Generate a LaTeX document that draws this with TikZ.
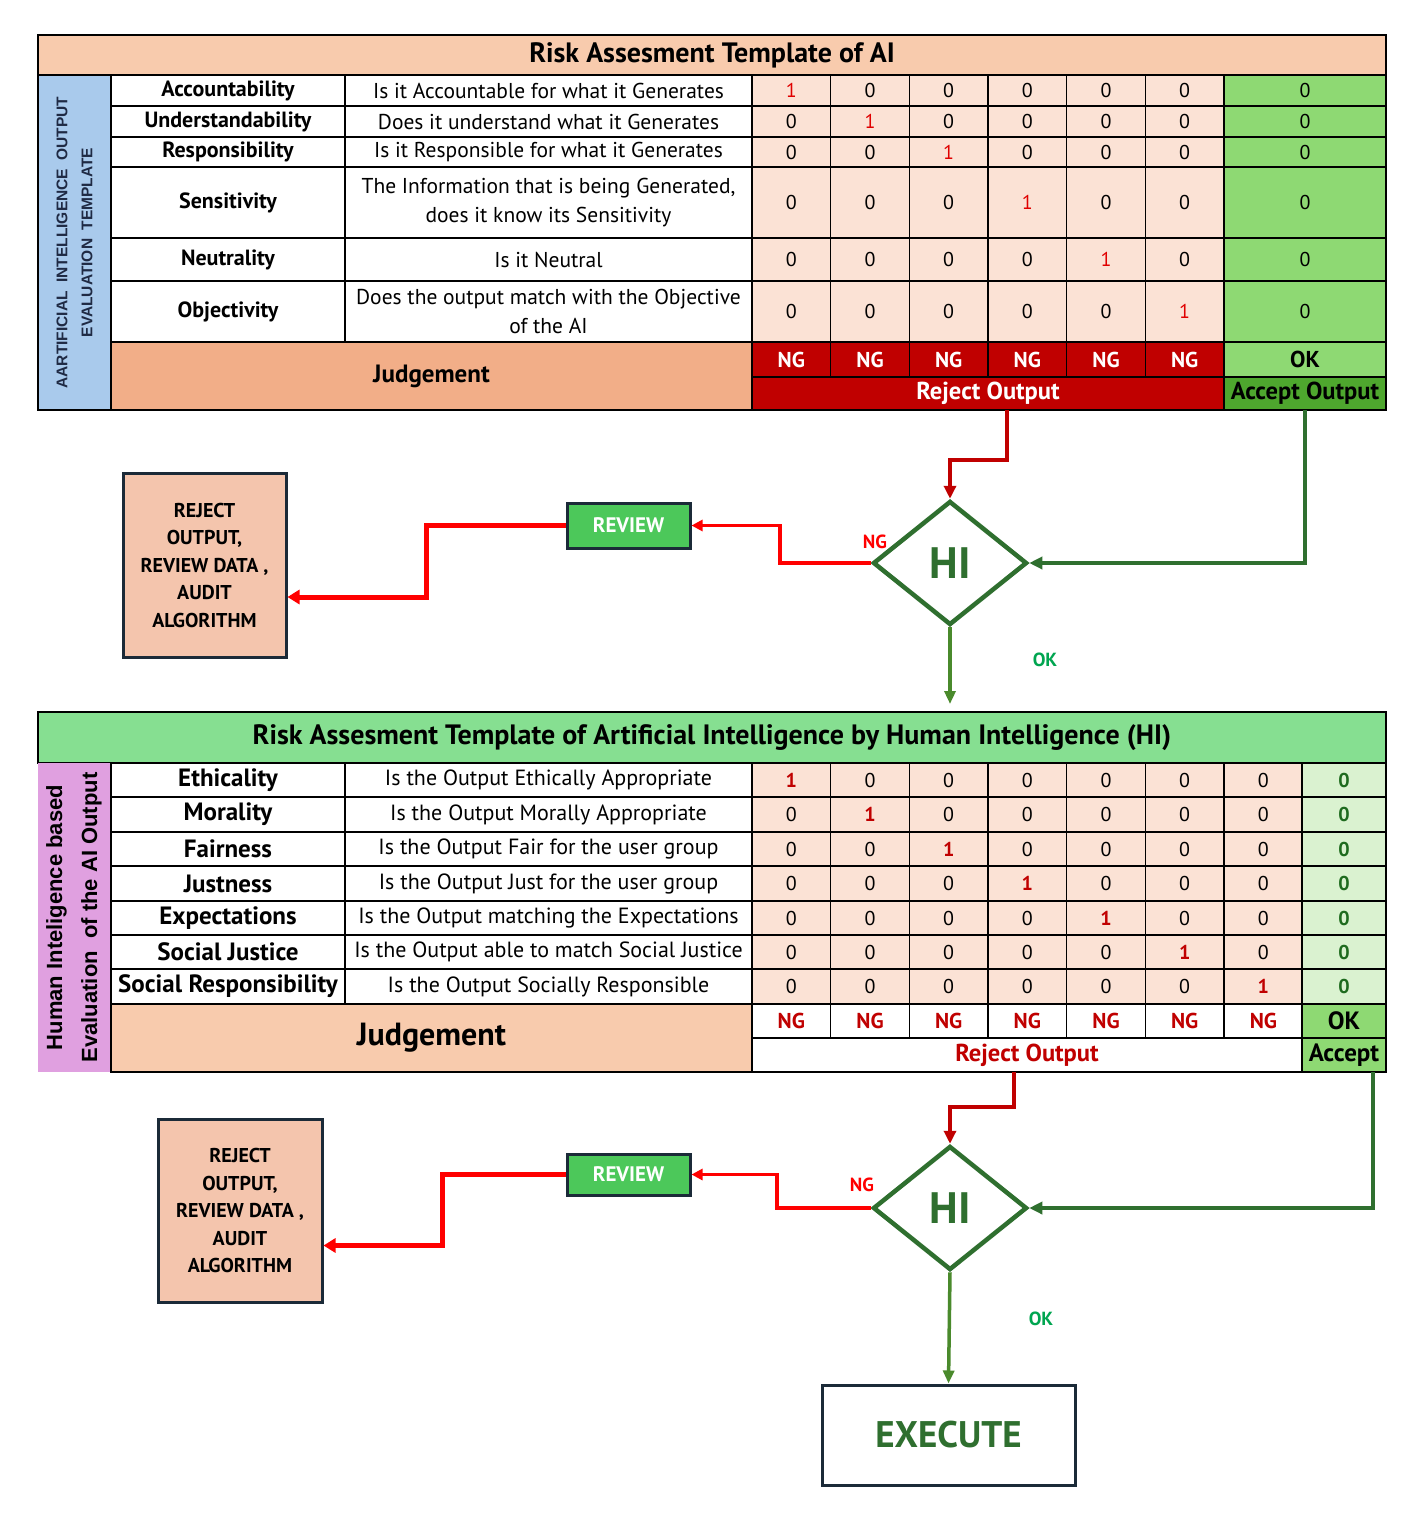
\documentclass[tikz,border=0pt]{standalone}
\usepackage{fontspec}
\setmainfont{PT Sans}
\newfontfamily\sidefont{Liberation Sans}
\usetikzlibrary{arrows.meta,backgrounds,calc,fit,positioning,shapes.geometric}

\definecolor{titlePeach}{HTML}{F8CBAD}
\definecolor{cellPeach}{HTML}{FBE2D5}
\definecolor{judgeSalmon}{HTML}{F2AE88}
\definecolor{okGreen}{HTML}{8ED973}
\definecolor{acceptGreen}{HTML}{4EA72E}
\definecolor{ngRed}{HTML}{C00000}
\definecolor{hitRed}{HTML}{E00000}
\definecolor{sideBlue}{HTML}{A9CAEC}
\definecolor{sideInk}{HTML}{1F2A44}
\definecolor{sidePink}{HTML}{E0A0E0}
\definecolor{hiTitleGreen}{HTML}{86DF91}
\definecolor{paleGreen}{HTML}{DAF2D0}
\definecolor{zeroGreen}{HTML}{1E6B1E}
\definecolor{lineGreen}{HTML}{2F6F2F}
\definecolor{okLineGreen}{HTML}{4A8A2C}
\definecolor{okText}{HTML}{00A550}
\definecolor{reviewGreen}{HTML}{4CC85A}
\definecolor{boxInk}{HTML}{1B2A38}
\definecolor{rejectPeach}{HTML}{F4C5AD}

\begin{document}
\begin{tikzpicture}[x=1pt, y=-1pt,
  grid cell/.style={draw=black, line width=1.6pt, anchor=north west, inner sep=0pt, outer sep=0pt, align=center},
  crit cell/.style={grid cell, fill=white, minimum width=234},
  ask cell/.style={grid cell, fill=white, minimum width=407},
  val cell/.style={grid cell, fill=cellPeach, minimum width=78.67, font=\fontsize{20}{22}\selectfont},
  side text/.style={rotate=90, align=center, inner sep=0pt},
  table frame/.style={draw=black, line width=2.6pt, inner sep=0pt},
  hi check/.style={diamond, draw=lineGreen, line width=4.5pt, fill=white, inner sep=0pt,
    minimum width=154, minimum height=124, text=lineGreen, font=\fontsize{44}{44}\selectfont\bfseries},
  review box/.style={draw=boxInk, line width=3pt, fill=reviewGreen, text=white,
    minimum width=123, font=\fontsize{21}{24}\selectfont\bfseries},
  reject box/.style={draw=boxInk, line width=3pt, fill=rejectPeach, align=center,
    font=\fontsize{20}{27.5}\selectfont\bfseries},
  execute box/.style={draw=boxInk, line width=3pt, fill=white, text=lineGreen,
    minimum width=253, minimum height=100, font=\fontsize{37}{40}\selectfont\bfseries},
  ng label/.style={text=red, font=\fontsize{19}{20}\selectfont\bfseries},
  ok label/.style={text=okText, font=\fontsize{19}{20}\selectfont\bfseries},
  feed red/.style={draw=ngRed, line width=4pt, -{Triangle[length=13pt,width=12pt]}},
  feed green/.style={draw=lineGreen, line width=4.5pt, -{Triangle[length=13pt,width=12pt]}},
  ng line/.style={draw=red, line width=3.5pt, -{Triangle[length=11pt,width=11pt]}},
  ng line thick/.style={draw=red, line width=5pt, -{Triangle[length=12pt,width=14pt]}},
  ok line/.style={draw=okLineGreen, line width=3.5pt, -{Triangle[length=13pt,width=11pt]}}
]

\useasboundingbox (0,0) rectangle (1426,1526);
\fill[white] (0,0) rectangle (1426,1526);

% Column anchors shared by both templates.
\def\critLeft{111}
\def\askLeft{345}
\def\valLeft{752}
\def\valStep{78.67}

% -----------------------------------------------------------------------------
% Template 1: risk assessment of the AI output.
% -----------------------------------------------------------------------------
\node[grid cell, fill=titlePeach, minimum width=1348, minimum height=40,
  font=\fontsize{28}{30}\selectfont\bfseries] (aiTitle) at (38,35) {Risk Assesment Template of AI};
\node[grid cell, fill=sideBlue, minimum width=73, minimum height=335] (aiSide) at (38,75) {};
\node[side text, text=sideInk, font=\sidefont\bfseries\fontsize{15.5}{25}\selectfont] (aiSideText) at (aiSide.center)
  {AARTIFICIAL\ \ INTELLIGENCE\ \ OUTPUT\\EVALUATION\ \ TEMPLATE};

\foreach \row/\ytop/\rowh/\crit/\ask in {
    1/75/31/Accountability/{Is it Accountable for what it Generates},
    2/106/31/Understandability/{Does it understand what it Generates},
    3/137/30/Responsibility/{Is it Responsible for what it Generates},
    4/167/71/Sensitivity/{The Information that is being Generated,\\does it know its Sensitivity},
    5/238/43/Neutrality/{Is it Neutral},
    6/281/61/Objectivity/{Does the output match with the Objective\\of the AI}} {
  \node[crit cell, minimum height=\rowh, font=\fontsize{22}{24}\selectfont\bfseries] (aiCrit\row) at (\critLeft,\ytop) {\crit};
  \node[ask cell, minimum height=\rowh, font=\fontsize{21.5}{29}\selectfont] (aiAsk\row) at (\askLeft,\ytop) {\ask};
  \foreach \col in {1,...,6}
    \node[val cell, minimum height=\rowh] (aiVal\row-\col) at ({\valLeft+(\col-1)*\valStep},\ytop)
      {\ifnum\col=\row\relax\textcolor{hitRed}{1}\else 0\fi};
  \node[grid cell, fill=okGreen, minimum width=162, minimum height=\rowh,
    font=\fontsize{20}{22}\selectfont] (aiOk\row) at (1224,\ytop) {0};
}

\node[grid cell, fill=judgeSalmon, minimum width=641, minimum height=68,
  font=\fontsize{25}{28}\selectfont\bfseries] (aiJudge) at (\critLeft,342) {Judgement};
\foreach \col in {1,...,6}
  \node[grid cell, fill=ngRed, text=white, minimum width=\valStep, minimum height=35,
    font=\fontsize{21.5}{23}\selectfont\bfseries] (aiNg\col) at ({\valLeft+(\col-1)*\valStep},342) {NG};
\node[grid cell, fill=okGreen, minimum width=162, minimum height=35,
  font=\fontsize{23}{24}\selectfont\bfseries] (aiOkMark) at (1224,342) {OK};
\node[grid cell, fill=ngRed, text=white, minimum width=472, minimum height=33,
  font=\fontsize{24.5}{26}\selectfont\bfseries] (aiReject) at (\valLeft,377) {Reject Output};
\node[grid cell, fill=acceptGreen, minimum width=162, minimum height=33,
  font=\fontsize{24.5}{26}\selectfont\bfseries] (aiAccept) at (1224,377) {Accept Output};

\node[table frame, fit=(aiTitle)(aiSide)(aiAccept)] (aiFrame) {};

% -----------------------------------------------------------------------------
% First human check.
% -----------------------------------------------------------------------------
\node[hi check] (aiCheck) at (950,563) {HI};
\node[review box, minimum height=45] (aiReview) at (628.5,525.5) {REVIEW};
\node[reject box, minimum width=163, minimum height=184] (aiRejectBox) at (204.5,565)
  {REJECT\\OUTPUT,\\REVIEW DATA ,\\AUDIT\\ALGORITHM};
\node[ng label] (aiNgLabel) at (875,542) {NG};
\node[ok label] (aiOkLabel) at (1045,660) {OK};

\draw[feed red] ([xshift=19pt]aiReject.south) -- ++(0,50) -| (aiCheck.north);
\draw[feed green] (aiAccept.south) |- (aiCheck.east);
\draw[ng line] (aiCheck.west) -- ++(-91,0) |- (aiReview.east);
\draw[ng line thick] (aiReview.west) -- ++(-139,0) |- ([yshift=-32pt]aiRejectBox.east);

% -----------------------------------------------------------------------------
% Template 2: evaluation of the AI output by human intelligence.
% -----------------------------------------------------------------------------
\node[grid cell, fill=hiTitleGreen, minimum width=1348, minimum height=51,
  font=\fontsize{28}{30}\selectfont\bfseries] (hiTitle) at (38,712)
  {Risk Assesment Template of Artificial Intelligence by Human Intelligence (HI)};
\node[grid cell, draw=none, fill=sidePink, minimum width=72, minimum height=309] (hiSide) at (38,763) {};
\node[side text, font=\sidefont\bfseries\fontsize{22}{35}\selectfont] (hiSideText) at (hiSide.center)
  {Human Inteligence based\\Evaluation\ \ of the AI Output};

\draw[ok line, shorten >=8pt] (aiCheck.south) -- (aiCheck.south |- hiTitle.north);

\foreach \row/\ytop/\rowh/\crit/\ask in {
    1/763/34/Ethicality/{Is the Output Ethically Appropriate},
    2/797/35/Morality/{Is the Output Morally Appropriate},
    3/832/34/Fairness/{Is the Output Fair for the user group},
    4/866/35/Justness/{Is the Output Just for the user group},
    5/901/34/Expectations/{Is the Output matching the Expectations},
    6/935/34/Social Justice/{Is the Output able to match Social Justice},
    7/969/35/Social Responsibility/{Is the Output Socially Responsible}} {
  \node[crit cell, minimum height=\rowh, font=\fontsize{25}{26}\selectfont\bfseries] (hiCrit\row) at (\critLeft,\ytop) {\crit};
  \node[ask cell, minimum height=\rowh, font=\fontsize{22}{24}\selectfont] (hiAsk\row) at (\askLeft,\ytop) {\ask};
  \foreach \col in {1,...,7}
    \node[val cell, minimum height=\rowh] (hiVal\row-\col) at ({\valLeft+(\col-1)*\valStep},\ytop)
      {\ifnum\col=\row\relax\textcolor{ngRed}{\bfseries 1}\else 0\fi};
  \node[grid cell, fill=paleGreen, minimum width=84, minimum height=\rowh, text=zeroGreen,
    font=\fontsize{20}{22}\selectfont\bfseries] (hiOk\row) at (1302,\ytop) {0};
}

\node[grid cell, fill=titlePeach, minimum width=641, minimum height=68,
  font=\fontsize{32}{34}\selectfont\bfseries] (hiJudge) at (\critLeft,1004) {Judgement};
\foreach \col in {1,...,7}
  \node[grid cell, fill=white, text=ngRed, minimum width=\valStep, minimum height=34,
    font=\fontsize{21.5}{23}\selectfont\bfseries] (hiNg\col) at ({\valLeft+(\col-1)*\valStep},1004) {NG};
\node[grid cell, fill=okGreen, minimum width=84, minimum height=34,
  font=\fontsize{25}{26}\selectfont\bfseries] (hiOkMark) at (1302,1004) {OK};
\node[grid cell, fill=white, text=ngRed, minimum width=550, minimum height=34,
  font=\fontsize{24.5}{26}\selectfont\bfseries] (hiReject) at (\valLeft,1038) {Reject Output};
\node[grid cell, fill=okGreen, minimum width=84, minimum height=34,
  font=\fontsize{25}{26}\selectfont\bfseries] (hiAccept) at (1302,1038) {Accept};

% -----------------------------------------------------------------------------
% Second human check and execution.
% -----------------------------------------------------------------------------
\node[hi check] (hiCheck) at (950,1208) {HI};
\node[review box, minimum height=41] (hiReview) at (628.5,1174.5) {REVIEW};
\node[reject box, minimum width=164, minimum height=183] (hiRejectBox) at (240,1210.5)
  {REJECT\\OUTPUT,\\REVIEW DATA ,\\AUDIT\\ALGORITHM};
\node[execute box] (execute) at (948.5,1435) {EXECUTE};
\node[ng label] (hiNgLabel) at (862,1185) {NG};
\node[ok label] (hiOkLabel) at (1041,1319) {OK};

\draw[feed red] ([xshift=-13pt]hiReject.south) -- ++(0,35) -| (hiCheck.north);
\draw[feed green] ([xshift=29pt]hiAccept.south) |- (hiCheck.east);
\draw[ng line] (hiCheck.west) -- ++(-94,0) |- (hiReview.east);
\draw[ng line thick] (hiReview.west) -- ++(-123,0) |- ([yshift=-35pt]hiRejectBox.east);
\draw[ok line] (hiCheck.south) -- (execute.north);

\end{tikzpicture}
\end{document}
